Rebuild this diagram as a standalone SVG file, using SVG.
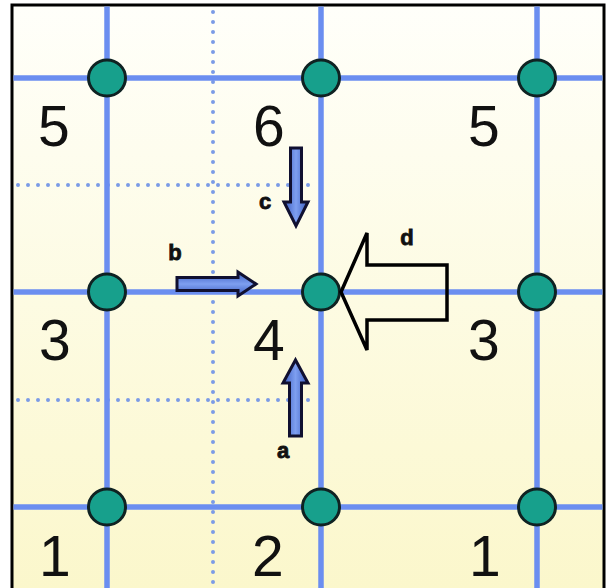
<svg xmlns="http://www.w3.org/2000/svg" width="607" height="588" viewBox="0 0 607 588">
<defs>
<linearGradient id="bg" x1="0" y1="0" x2="0" y2="1">
<stop offset="0" stop-color="#fffffa"/>
<stop offset="1" stop-color="#fbf7cb"/>
</linearGradient>
<linearGradient id="vfill" x1="0" y1="0" x2="1" y2="0">
<stop offset="0" stop-color="#3a5cc0"/>
<stop offset="0.5" stop-color="#7e9ff0"/>
<stop offset="1" stop-color="#3a5cc0"/>
</linearGradient>
<linearGradient id="hfill" x1="0" y1="0" x2="0" y2="1">
<stop offset="0" stop-color="#3a5cc0"/>
<stop offset="0.5" stop-color="#7e9ff0"/>
<stop offset="1" stop-color="#3a5cc0"/>
</linearGradient>
<style>
.grid{stroke:#6b8ef0;stroke-width:5.5;fill:none}
.dot{stroke:#7b9be6;stroke-width:4;stroke-dasharray:0 10;stroke-linecap:round;fill:none}
.node{fill:#17a08c;stroke:#0f2222;stroke-width:3}
.num{font-family:"Liberation Sans",Arial,sans-serif;font-size:57px;fill:#111}
.lbl{font-family:"Liberation Sans",Arial,sans-serif;font-size:22px;font-weight:bold;fill:#111;stroke:#111;stroke-width:0.8}
.small{stroke:#101030;stroke-width:3;stroke-linejoin:miter}
.big{fill:none;stroke:#000;stroke-width:3.5;stroke-linejoin:miter}
</style>
</defs>
<rect x="0" y="0" width="607" height="588" fill="#ffffff"/>
<rect x="12" y="5" width="592" height="590" fill="url(#bg)" stroke="#000" stroke-width="3"/>
<g id="connectors">
<line class="dot" x1="213" y1="12" x2="213" y2="588"/>
<line class="dot" x1="18" y1="185" x2="318" y2="185"/>
<line class="dot" x1="18" y1="400" x2="318" y2="400"/>
<line class="grid" x1="107" y1="6.5" x2="107" y2="588"/>
<line class="grid" x1="321" y1="6.5" x2="321" y2="588"/>
<line class="grid" x1="537" y1="6.5" x2="537" y2="588"/>
<line class="grid" x1="13.5" y1="78" x2="602.5" y2="78"/>
<line class="grid" x1="13.5" y1="292" x2="602.5" y2="292"/>
<line class="grid" x1="13.5" y1="507" x2="602.5" y2="507"/>
</g>
<g id="n1"><ellipse class="node" cx="107" cy="78" rx="18.5" ry="18"/></g>
<g id="n2"><ellipse class="node" cx="321" cy="78" rx="18.5" ry="18"/></g>
<g id="n3"><ellipse class="node" cx="537" cy="78" rx="18.5" ry="18"/></g>
<g id="n4"><ellipse class="node" cx="107" cy="292" rx="18.5" ry="18"/></g>
<g id="n5"><ellipse class="node" cx="321" cy="292" rx="18.5" ry="18"/></g>
<g id="n6"><ellipse class="node" cx="537" cy="292" rx="18.5" ry="18"/></g>
<g id="n7"><ellipse class="node" cx="107" cy="507" rx="18.5" ry="18"/></g>
<g id="n8"><ellipse class="node" cx="321" cy="507" rx="18.5" ry="18"/></g>
<g id="n9"><ellipse class="node" cx="537" cy="507" rx="18.5" ry="18"/></g>
<g id="numbers">
<text class="num" x="38" y="146">5</text>
<text class="num" x="253" y="146">6</text>
<text class="num" x="468" y="146">5</text>
<text class="num" x="39" y="360">3</text>
<text class="num" x="253" y="360">4</text>
<text class="num" x="468" y="360">3</text>
<text class="num" x="39" y="576">1</text>
<text class="num" x="252" y="576">2</text>
<text class="num" x="469" y="576">1</text>
</g>
<g id="arrow-c">
<path class="small" fill="url(#vfill)" d="M290.5,148 H301.5 V202 H308 L296,226 L284,202 H290.5 Z"/>
<text class="lbl" x="265" y="209" text-anchor="middle">c</text>
</g>
<g id="arrow-b">
<path class="small" fill="url(#hfill)" d="M177,277.5 V290.5 H238 V296 L256,284 L238,272 V277.5 Z"/>
<text class="lbl" x="175" y="260" text-anchor="middle">b</text>
</g>
<g id="arrow-a">
<path class="small" fill="url(#vfill)" d="M289.5,436 H301.5 V383 H308 L295.5,360 L283,383 H289.5 Z"/>
<text class="lbl" x="283" y="458" text-anchor="middle">a</text>
</g>
<g id="arrow-d">
<path class="big" d="M341,292 L367,233 V265 H447 V320 H367 V350 Z"/>
<text class="lbl" x="407" y="245" text-anchor="middle">d</text>
</g>
</svg>
